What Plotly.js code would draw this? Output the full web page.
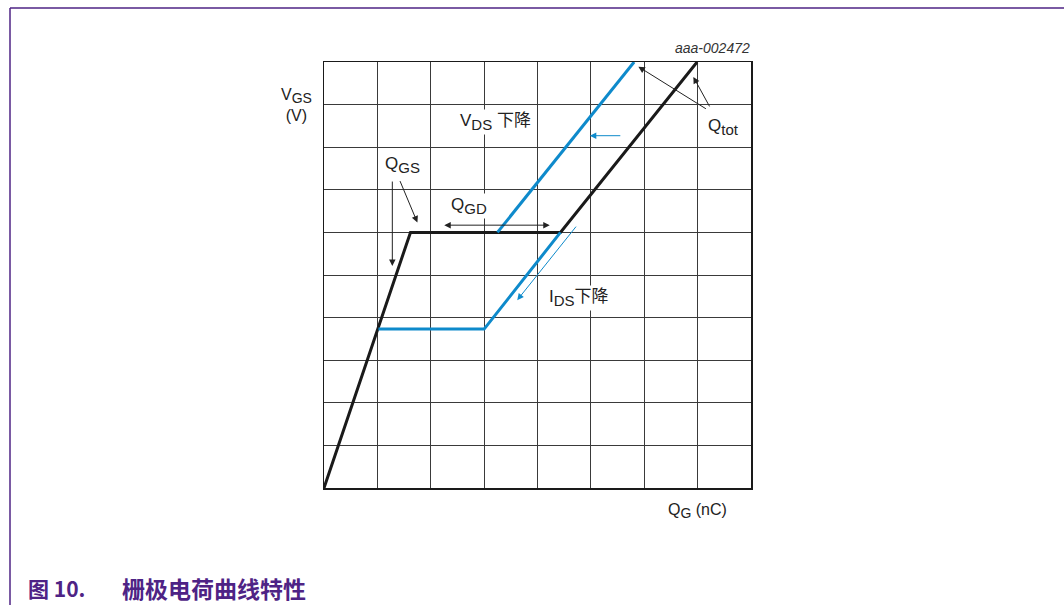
<!DOCTYPE html>
<html>
<head>
<meta charset="utf-8">
<script src="https://cdn.plot.ly/plotly-3.0.1.min.js"></script>
<style>
  body { margin: 0; background: #fff; }
  #chart { width: 1064px; height: 605px; }
</style>
</head>
<body>
<div id="chart"></div>
<script>
// gate charge curve, Q_G (nC) vs V_GS (V)
var qgBlack = [0, 1.62, 4.43, 6.99];
var vgsBlack = [0, 6, 6, 10];
var qgBlueLow = [1.02, 3, 4.43];
var vgsBlueLow = [3.73, 3.73, 6];
var qgBlueHigh = [3.25, 5.81];
var vgsBlueHigh = [6, 10];

var blue = '#0e8acb';
var purple = '#4e2385';
var font = 'Liberation Sans, Arial, Noto Sans CJK SC, sans-serif';

// plot area in pixels: x 324..751, y 62..488
function px(x) { return (x - 324) / 427; }
function py(y) { return (488 - y) / 426; }
function sub(s, size) { return '<sub><span style="font-size:' + size + 'px">' + s + '</span></sub>'; }

var data = [
    {x: qgBlack, y: vgsBlack, mode: 'lines', line: {color: '#1a1a1a', width: 3}, hoverinfo: 'skip'},
    {x: qgBlueLow, y: vgsBlueLow, mode: 'lines', line: {color: blue, width: 3}, hoverinfo: 'skip'},
    {x: qgBlueHigh, y: vgsBlueHigh, mode: 'lines', line: {color: blue, width: 3}, hoverinfo: 'skip'}
];

function arrow(x, y, ax, ay, color, extra) {
    var a = {x: x, y: y, ax: ax, ay: ay, text: '', showarrow: true,
        arrowhead: 2, arrowsize: 1.3, arrowwidth: 1, arrowcolor: color};
    for (var k in extra) a[k] = extra[k];
    return a;
}
function label(x, y, text, size, bg) {
    return {x: x, y: y, text: text, showarrow: false,
        font: {family: font, size: size, color: '#222'},
        bgcolor: bg ? '#fff' : 'rgba(0,0,0,0)', borderpad: 1};
}

var annotations = [
    label(3.22, 8.6, 'V' + sub('DS', 15) + ' 下降', 17, true),
    label(4.78, 4.45, 'I' + sub('DS', 15) + '下降', 17, true),
    label(7.48, 8.48, 'Q' + sub('tot', 15), 17, false),
    label(1.47, 7.58, 'Q' + sub('GS', 15), 17, true),
    label(2.72, 6.62, 'Q' + sub('GD', 15), 17, true),
    arrow(5.89, 9.89, 69, 43, '#222'),
    arrow(6.92, 9.65, 17, 31, '#222'),
    arrow(4.98, 8.27, 32, 0, blue),
    arrow(3.62, 4.41, 60, -75, blue),
    arrow(1.28, 5.21, 0, -86, '#222'),
    arrow(1.75, 6.23, -18, -43, '#222'),
    arrow(4.23, 6.17, -107, 0, '#222', {arrowside: 'end+start'}),
    {xref: 'paper', yref: 'paper', x: px(752), y: py(48), xanchor: 'right', yanchor: 'middle',
        text: '<i>aaa-002472</i>', showarrow: false, font: {family: font, size: 14, color: '#333'}},
    {xref: 'paper', yref: 'paper', x: px(296), y: py(105), xanchor: 'center', yanchor: 'middle',
        text: 'V' + sub('GS', 14) + '<br>(V)', showarrow: false, align: 'center',
        font: {family: font, size: 16, color: '#222'}},
    {xref: 'paper', yref: 'paper', x: px(697), y: py(511), xanchor: 'center', yanchor: 'middle',
        text: 'Q' + sub('G', 14) + ' (nC)', showarrow: false, font: {family: font, size: 16, color: '#222'}},
    {xref: 'paper', yref: 'paper', x: px(27), y: py(588), xanchor: 'left', yanchor: 'middle',
        text: '<b>图 10.</b>', showarrow: false, borderpad: 0,
        font: {family: 'Noto Sans CJK SC, Liberation Sans, sans-serif', size: 21, color: purple}},
    {xref: 'paper', yref: 'paper', x: px(121), y: py(588), xanchor: 'left', yanchor: 'middle',
        text: '<b>栅极电荷曲线特性</b>', showarrow: false, borderpad: 0,
        font: {family: 'Noto Sans CJK SC, Liberation Sans, sans-serif', size: 23, color: purple}}
];

var shapes = [
    {type: 'line', xref: 'paper', yref: 'paper', x0: px(10), x1: px(1064), y0: py(8), y1: py(8),
        line: {color: purple, width: 1.5}},
    {type: 'line', xref: 'paper', yref: 'paper', x0: px(10), x1: px(10), y0: py(8), y1: py(605),
        line: {color: purple, width: 1.5}}
];

var axisStyle = {
    showgrid: true, gridcolor: '#3a3a3a', gridwidth: 1, dtick: 1,
    showline: true, linecolor: '#1a1a1a', linewidth: 1.5, mirror: true,
    showticklabels: false, ticks: '', zeroline: false, fixedrange: true
};

var layout = {
    width: 1064, height: 605,
    margin: {l: 324, r: 313, t: 62, b: 117},
    paper_bgcolor: '#fff', plot_bgcolor: '#fff',
    showlegend: false,
    xaxis: Object.assign({range: [0, 8]}, axisStyle),
    yaxis: Object.assign({range: [0, 10]}, axisStyle),
    annotations: annotations,
    shapes: shapes
};

Plotly.newPlot('chart', data, layout, {displayModeBar: false, staticPlot: true});
</script>
</body>
</html>
